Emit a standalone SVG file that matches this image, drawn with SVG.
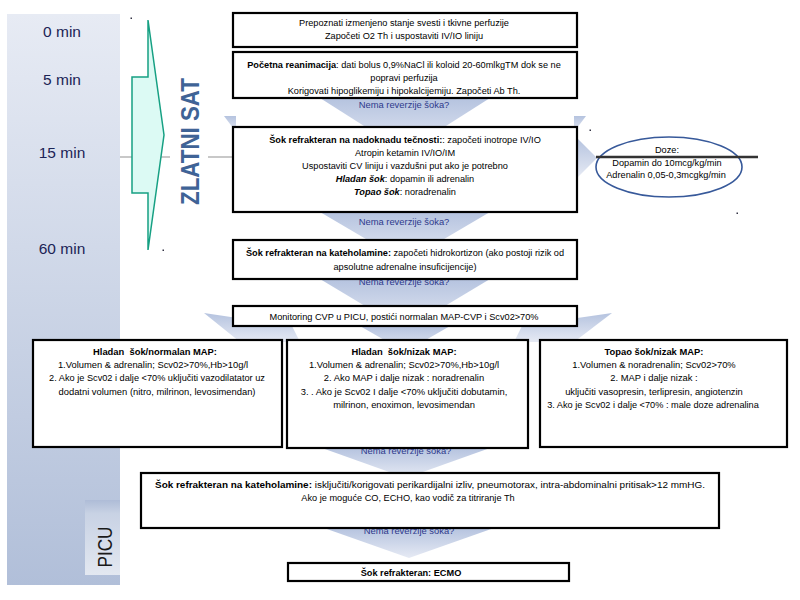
<svg xmlns="http://www.w3.org/2000/svg" width="800" height="600" viewBox="0 0 800 600">
<defs>
<linearGradient id="panel" x1="0" y1="0" x2="0" y2="1">
<stop offset="0" stop-color="#e7ebf4"/>
<stop offset="1" stop-color="#b1bfd9"/>
</linearGradient>
<linearGradient id="picu" x1="0" y1="0" x2="0" y2="1">
<stop offset="0" stop-color="#aebcd7"/>
<stop offset="0.18" stop-color="#c8d2e4"/>
<stop offset="1" stop-color="#e3e8f1"/>
</linearGradient>
<linearGradient id="arr" x1="0" y1="0" x2="0" y2="1">
<stop offset="0" stop-color="#b5c3df"/>
<stop offset="1" stop-color="#e6eaf4"/>
</linearGradient>
<style>
.box{fill:#fff;stroke:#000;stroke-width:2.2}
.t{font-family:"Liberation Sans",Arial,sans-serif;font-size:9.2px;fill:#000;text-anchor:middle}
.m{font-size:9.4px}
.b{font-weight:bold}
.bi{font-weight:bold;font-style:italic}
.nema{font-family:"Liberation Sans",Arial,sans-serif;font-size:9.4px;fill:#2e3a8c;text-anchor:middle}
.time{font-family:"Liberation Sans",Arial,sans-serif;font-size:15.5px;fill:#1c2456;text-anchor:middle}
.arr{fill:url(#arr)}
.dot{fill:#334}
</style>
</defs>
<rect width="800" height="600" fill="#fff"/>
<g id="timeline">
<rect x="7" y="14" width="113" height="571" fill="url(#panel)"/>
<rect x="85" y="500" width="35" height="75" fill="url(#picu)"/>
<text class="time" x="62" y="37">0 min</text>
<text class="time" x="62" y="85">5 min</text>
<text class="time" x="62" y="158">15 min</text>
<text class="time" x="62" y="254">60 min</text>
<text transform="translate(112,547) rotate(-90)" font-family="Liberation Sans,Arial,sans-serif" font-size="21" fill="#1a1a1a" text-anchor="middle" textLength="41" lengthAdjust="spacingAndGlyphs">PICU</text>
</g>
<g id="golden-hour">
<line x1="120" y1="157" x2="170" y2="157" stroke="#c8c8c8" stroke-width="2"/>
<line x1="208" y1="157" x2="234" y2="157" stroke="#c8c8c8" stroke-width="2"/>
<polygon points="148,20 164,135 148,250 148,193 132,193 132,77 148,77" fill="#dcfaf4" stroke="#16a083" stroke-width="1.5"/>
<text transform="translate(199,141.5) rotate(-90)" font-family="Liberation Sans,Arial,sans-serif" font-size="25" font-weight="bold" fill="#3f6396" text-anchor="middle" textLength="127" lengthAdjust="spacingAndGlyphs">ZLATNI SAT</text>
<rect class="dot" x="130.5" y="17.5" width="1.5" height="1.5"/>
<rect class="dot" x="162.5" y="249.5" width="1.5" height="1.5"/>
<rect class="dot" x="589.5" y="129.5" width="1.5" height="1.5"/>
<rect class="dot" x="736.5" y="212.5" width="1.5" height="1.5"/>
</g>
<g id="connectors">
<polygon class="arr" points="224,116 236,116 236,132"/>
<polygon class="arr" points="574,116 586,116 574,132"/>
<polygon class="arr" points="320,98 490,98 405,152"/>
<polygon class="arr" points="577,138 597,158 577,178"/>
<polygon class="arr" points="320,212 490,212 405,262"/>
<polygon class="arr" points="320,279 490,279 405,330"/>
<polygon class="arr" points="360,326 450,326 405,352"/>
<polygon class="arr" points="204,313 292,326 300,342 240,342"/>
<polygon class="arr" points="612,313 522,326 514,342 574,342"/>
<polygon class="arr" points="322,448 490,448 406,478"/>
<polygon class="arr" points="324,528 494,528 409,558"/>
<text class="nema" x="404" y="107.5">Nema reverzije šoka?</text>
<text class="nema" x="404" y="224.5">Nema reverzije šoka?</text>
<text class="nema" x="404" y="284.5">Nema reverzije šoka?</text>
<text class="nema" x="406" y="453.5">Nema reverzije šoka?</text>
<text class="nema" x="409" y="534">Nema reverzije šoka?</text>
</g>
<g id="n1">
<rect class="box" x="233" y="13" width="344" height="34"/>
<text class="t" x="404" y="25.5">Prepoznati izmenjeno stanje svesti i tkivne perfuzije</text>
<text class="t" x="404" y="38.5">Započeti O2 Th i uspostaviti IV/IO liniju</text>
</g>
<g id="n2">
<rect class="box" x="233" y="52" width="344" height="46"/>
<text class="t" x="404" y="67.5" font-size="9"><tspan class="b">Početna reanimacija</tspan>: dati bolus 0,9%NaCl ili koloid 20-60mlkgTM dok se ne</text>
<text class="t" x="404" y="80.5">popravi perfuzija</text>
<text class="t" x="404" y="93.5" font-size="9.5">Korigovati hipoglikemiju i hipokalcijemiju. Započeti Ab Th.</text>
</g>
<g id="n3">
<rect class="box" x="233" y="127" width="344" height="85"/>
<text class="t" x="405" y="142.5"><tspan class="b">Šok refrakteran na nadoknadu tečnosti:</tspan>: započeti inotrope IV/IO</text>
<text class="t" x="405" y="155.5">Atropin ketamin IV/IO/IM</text>
<text class="t" x="405" y="168.5">Uspostaviti CV liniju i vazdušni put ako je potrebno</text>
<text class="t" x="405" y="181.5"><tspan class="bi">Hladan šok</tspan>: dopamin ili adrenalin</text>
<text class="t" x="405" y="194.5"><tspan class="bi">Topao šok</tspan>: noradrenalin</text>
</g>
<g id="doze">
<ellipse cx="669" cy="167" rx="73" ry="30" fill="#fff" stroke="#37599a" stroke-width="1.6"/>
<line x1="596" y1="157" x2="758" y2="157" stroke="#333" stroke-width="2.5"/>
<text class="t" x="667" y="153" font-size="9.9">Doze:</text>
<text class="t" x="667" y="165.5" font-size="9.9">Dopamin do 10mcg/kg/min</text>
<text class="t" x="666" y="177.5" font-size="9.7">Adrenalin 0,05-0,3mcgkg/min</text>
</g>
<g id="n4">
<rect class="box" x="233" y="240" width="344" height="39"/>
<text class="t" x="405" y="255.5" font-size="9.5"><tspan class="b">Šok refrakteran na kateholamine:</tspan> započeti hidrokortizon (ako postoji rizik od</text>
<text class="t" x="405" y="269.5" font-size="9.5">apsolutne adrenalne insuficijencije)</text>
</g>
<g id="n5">
<rect class="box" x="233" y="306" width="344" height="20"/>
<text class="t" x="404" y="319.5">Monitoring CVP u PICU, postići normalan MAP-CVP i Scv02&gt;70%</text>
</g>
<g id="n6">
<rect class="box" x="33" y="340" width="249" height="107"/>
<text class="t m b" x="155" y="354.5">Hladan&#160; šok/normalan MAP:</text>
<text class="t m" x="153" y="367.5">1.Volumen &amp; adrenalin; Scv02&gt;70%,Hb&gt;10g/l</text>
<text class="t" x="157" y="381" font-size="9.9">2. Ako je Scv02 i dalje &lt;70% uključiti vazodilatator uz</text>
<text class="t m" x="157" y="394.5">dodatni volumen (nitro, milrinon, levosimendan)</text>
</g>
<g id="n7">
<rect class="box" x="287" y="340" width="241" height="108"/>
<text class="t m b" x="404" y="354.5">Hladan&#160; šok/nizak MAP:</text>
<text class="t m" x="404" y="367.5">1.Volumen &amp; adrenalin; Scv02&gt;70%,Hb&gt;10g/l</text>
<text class="t m" x="404" y="381">2. Ako MAP i dalje nizak : noradrenalin</text>
<text class="t m" x="404" y="394.5">3. . Ako je Scv02 I dalje &lt;70% uključiti dobutamin,</text>
<text class="t m" x="404" y="408">milrinon, enoximon, levosimendan</text>
</g>
<g id="n8">
<rect class="box" x="540" y="340" width="247" height="107"/>
<text class="t m b" x="654" y="354.5">Topao šok/nizak MAP:</text>
<text class="t m" x="654" y="367.5">1.Volumen &amp; noradrenalin; Scv02&gt;70%</text>
<text class="t m" x="654" y="381">2. MAP i dalje nizak :</text>
<text class="t m" x="654" y="394.5">uključiti vasopresin, terlipresin, angiotenzin</text>
<text class="t" x="653" y="408" font-size="8.8">3. Ako je Scv02 i dalje &lt;70% : male doze adrenalina</text>
</g>
<g id="n9">
<rect class="box" x="141" y="473" width="578" height="55"/>
<text class="t" x="430" y="487.5" font-size="10.2" textLength="550" lengthAdjust="spacingAndGlyphs"><tspan class="b">Šok refrakteran na kateholamine:</tspan> isključiti/korigovati perikardijalni izliv, pneumotorax, intra-abdominalni pritisak&gt;12 mmHG.</text>
<text class="t" x="408" y="500.5" font-size="9.7">Ako je moguće CO, ECHO, kao vodič za titriranje Th</text>
</g>
<g id="n10">
<rect class="box" x="288" y="563" width="281" height="18"/>
<text class="t b" x="411" y="575.5" font-size="10">Šok refrakteran: ECMO</text>
</g>
</svg>
